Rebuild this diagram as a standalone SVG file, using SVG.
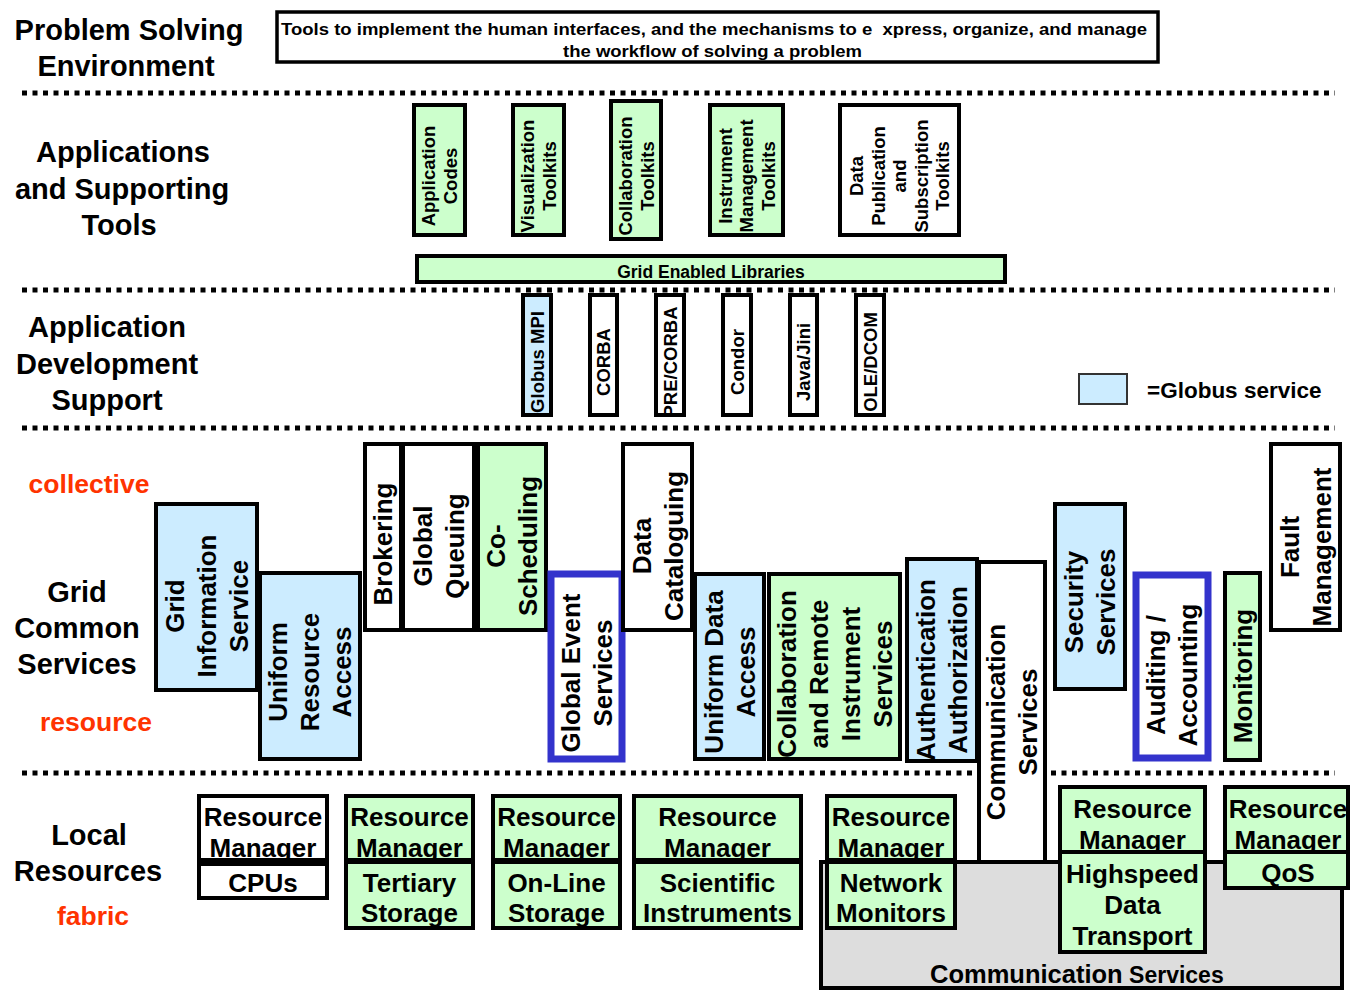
<svg xmlns="http://www.w3.org/2000/svg" width="1350" height="990" viewBox="0 0 1350 990">
<style>
.g{fill:#ccffcc;stroke:#000;stroke-width:4}
.b{fill:#ccecff;stroke:#000;stroke-width:4}
.w{fill:#fff;stroke:#000;stroke-width:4}
.ev{fill:#fff;stroke:#3333cc;stroke-width:7}
.gr{fill:#dddddd;stroke:#000;stroke-width:4}
.t{font-family:"Liberation Sans",Arial,sans-serif;font-weight:bold;fill:#000}
.m{text-anchor:middle}
.s18{font-size:18.5px}
.s26{font-size:26px}
.lab{font-size:29px}
.red{fill:#ff3300;font-size:26.5px}
.sep{stroke:#000;stroke-width:5;stroke-dasharray:5 5.5;fill:none}
</style>
<rect width="1350" height="990" fill="#fff"/>

<g id="separators">
<line class="sep" x1="22" y1="93" x2="1335" y2="93"/>
<line class="sep" x1="22" y1="290" x2="1335" y2="290"/>
<line class="sep" x1="22" y1="428" x2="1335" y2="428"/>
<line class="sep" x1="22" y1="773" x2="1335" y2="773"/>
</g>

<g id="layer-labels" class="t lab m">
<text x="129" y="40">Problem Solving</text>
<text x="126" y="76">Environment</text>
<text x="123" y="162">Applications</text>
<text x="122" y="199">and Supporting</text>
<text x="119" y="235">Tools</text>
<text x="107" y="337">Application</text>
<text x="107" y="374">Development</text>
<text x="107" y="410">Support</text>
<text x="77" y="602">Grid</text>
<text x="77" y="638">Common</text>
<text x="77" y="674">Services</text>
<text x="89" y="845">Local</text>
<text x="88" y="881">Resources</text>
<text class="red" x="89" y="493">collective</text>
<text class="red" x="96" y="731">resource</text>
<text class="red" x="93" y="925">fabric</text>
</g>

<g id="pse">
<rect x="277" y="12" width="881" height="50" fill="#fff" stroke="#000" stroke-width="3.5"/>
<text class="t" x="281" y="35" font-size="17" textLength="866" lengthAdjust="spacingAndGlyphs" xml:space="preserve">Tools to implement the human interfaces, and the mechanisms to e  xpress, organize, and manage</text>
<text class="t" x="563" y="57" font-size="17" textLength="299" lengthAdjust="spacingAndGlyphs">the workflow of solving a problem</text>
</g>

<g id="app-codes">
<rect class="g" x="414" y="105" width="51" height="130"/>
<text class="t s18 m" transform="translate(435,176) rotate(-90)"><tspan x="0" y="0">Application</tspan><tspan x="0" y="21.5">Codes</tspan></text>
</g>
<g id="vis-toolkits">
<rect class="g" x="513" y="105" width="51" height="130"/>
<text class="t s18 m" transform="translate(534,176) rotate(-90)"><tspan x="0" y="0">Visualization</tspan><tspan x="0" y="21.5">Toolkits</tspan></text>
</g>
<g id="collab-toolkits">
<rect class="g" x="611" y="101" width="50" height="138"/>
<text class="t s18 m" transform="translate(632,176) rotate(-90)"><tspan x="0" y="0">Collaboration</tspan><tspan x="0" y="21.5">Toolkits</tspan></text>
</g>
<g id="instr-toolkits">
<rect class="g" x="710" y="105" width="73" height="130"/>
<text class="t s18 m" transform="translate(731.5,176) rotate(-90)"><tspan x="0" y="0">Instrument</tspan><tspan x="0" y="21.5">Management</tspan><tspan x="0" y="43">Toolkits</tspan></text>
</g>
<g id="pubsub-toolkits">
<rect class="w" x="840" y="105" width="119" height="130"/>
<text class="t s18 m" transform="translate(863,176) rotate(-90)"><tspan x="0" y="0">Data</tspan><tspan x="0" y="21.5">Publication</tspan><tspan x="0" y="43">and</tspan><tspan x="0" y="64.5">Subscription</tspan><tspan x="0" y="86">Toolkits</tspan></text>
</g>
<g id="grid-libs">
<rect class="g" x="417" y="256" width="588" height="26"/>
<text class="t m" x="711" y="278" font-size="17.5">Grid Enabled Libraries</text>
</g>

<g id="globus-mpi">
<rect class="b" x="523" y="295" width="28" height="120"/>
<text class="t s18 m" transform="translate(543.5,362) rotate(-90)">Globus MPI</text>
</g>
<g id="corba">
<rect class="w" x="590" y="295" width="27" height="120"/>
<text class="t s18 m" transform="translate(610,362) rotate(-90)">CORBA</text>
</g>
<g id="pre-corba">
<rect class="w" x="656" y="295" width="28" height="120"/>
<text class="t s18 m" transform="translate(676.5,362) rotate(-90)">PRE/CORBA</text>
</g>
<g id="condor">
<rect class="w" x="723" y="295" width="28" height="120"/>
<text class="t s18 m" transform="translate(743.5,362) rotate(-90)">Condor</text>
</g>
<g id="java-jini">
<rect class="w" x="790" y="295" width="27" height="120"/>
<text class="t s18 m" transform="translate(810,362) rotate(-90)">Java/Jini</text>
</g>
<g id="ole-dcom">
<rect class="w" x="856" y="295" width="28" height="120"/>
<text class="t s18 m" transform="translate(876.5,362) rotate(-90)">OLE/DCOM</text>
</g>

<g id="legend">
<rect x="1079" y="374" width="48" height="30" fill="#ccecff" stroke="#333" stroke-width="2"/>
<text class="t" x="1147" y="398" font-size="22.5">=Globus service</text>
</g>

<g id="comm-services-bar">
<rect class="gr" x="821" y="862" width="521" height="126"/>
<text class="t" x="930" y="983"><tspan font-size="25.5">Communication</tspan><tspan font-size="23"> Services</tspan></text>
</g>

<g id="grid-info">
<rect class="b" x="156" y="504" width="101" height="186"/>
<text class="t s26 m" transform="translate(184,606) rotate(-90)"><tspan x="0" y="0">Grid</tspan><tspan x="0" y="32">Information</tspan><tspan x="0" y="64">Service</tspan></text>
</g>
<g id="uniform-resource">
<rect class="b" x="260" y="573" width="100" height="186"/>
<text class="t s26 m" transform="translate(287.4,672) rotate(-90)"><tspan x="0" y="0">Uniform</tspan><tspan x="0" y="32">Resource</tspan><tspan x="0" y="64">Access</tspan></text>
</g>
<g id="brokering">
<rect class="w" x="365" y="444" width="36" height="186"/>
<text class="t s26 m" transform="translate(392.4,544) rotate(-90)">Brokering</text>
</g>
<g id="global-queuing">
<rect class="w" x="403" y="444" width="71" height="186"/>
<text class="t s26 m" transform="translate(431.9,546) rotate(-90)"><tspan x="0" y="0">Global</tspan><tspan x="0" y="32">Queuing</tspan></text>
</g>
<g id="co-scheduling">
<rect class="g" x="478" y="444" width="68" height="186"/>
<text class="t s26 m" transform="translate(505.4,546) rotate(-90)"><tspan x="0" y="0">Co-</tspan><tspan x="0" y="32">Scheduling</tspan></text>
</g>
<g id="global-event">
<rect class="ev" x="551" y="574" width="71" height="185"/>
<text class="t s26 m" transform="translate(579.9,673) rotate(-90)"><tspan x="0" y="0">Global Event</tspan><tspan x="0" y="32">Services</tspan></text>
</g>
<g id="data-cataloguing">
<rect class="w" x="623" y="444" width="69" height="186"/>
<text class="t s26 m" transform="translate(650.9,546) rotate(-90)"><tspan x="0" y="0">Data</tspan><tspan x="0" y="32">Cataloguing</tspan></text>
</g>
<g id="uniform-data">
<rect class="b" x="695" y="574" width="69" height="185"/>
<text class="t s26 m" transform="translate(722.9,672) rotate(-90)"><tspan x="0" y="0">Uniform Data</tspan><tspan x="0" y="32">Access</tspan></text>
</g>
<g id="collab-remote">
<rect class="g" x="769" y="574" width="131" height="185"/>
<text class="t s26 m" transform="translate(795.9,674) rotate(-90)"><tspan x="0" y="0">Collaboration</tspan><tspan x="0" y="32">and Remote</tspan><tspan x="0" y="64">Instrument</tspan><tspan x="0" y="96">Services</tspan></text>
</g>
<g id="authn-authz">
<rect class="b" x="907" y="559" width="70" height="202"/>
<text class="t s26 m" transform="translate(935.4,670) rotate(-90)"><tspan x="0" y="0">Authentication</tspan><tspan x="0" y="32">Authorization</tspan></text>
</g>
<g id="communication-services">
<rect class="w" x="979" y="562" width="66" height="300"/>
<text class="t s26 m" transform="translate(1005.4,722) rotate(-90)"><tspan x="0" y="0">Communication</tspan><tspan x="0" y="32">Services</tspan></text>
</g>
<g id="security-services">
<rect class="b" x="1055" y="504" width="70" height="185"/>
<text class="t s26 m" transform="translate(1083.4,602) rotate(-90)"><tspan x="0" y="0">Security</tspan><tspan x="0" y="32">Services</tspan></text>
</g>
<g id="auditing">
<rect class="ev" x="1136" y="575" width="72" height="183"/>
<text class="t s26 m" transform="translate(1165.4,675) rotate(-90)"><tspan x="0" y="0">Auditing /</tspan><tspan x="0" y="32">Accounting</tspan></text>
</g>
<g id="monitoring">
<rect class="g" x="1225" y="573" width="35" height="187"/>
<text class="t s26 m" transform="translate(1251.9,676) rotate(-90)">Monitoring</text>
</g>
<g id="fault-management">
<rect class="w" x="1271" y="444" width="69" height="186"/>
<text class="t s26 m" transform="translate(1298.9,547) rotate(-90)"><tspan x="0" y="0">Fault</tspan><tspan x="0" y="32">Management</tspan></text>
</g>

<g id="cpus" class="t s26 m">
<rect class="w" x="199" y="796" width="128" height="64"/>
<rect class="w" x="199" y="864" width="128" height="34"/>
<text x="263" y="826">Resource</text><text x="263" y="857">Manager</text>
<text x="263" y="892">CPUs</text>
</g>
<g id="tertiary-storage" class="t s26 m">
<rect class="g" x="346" y="796" width="127" height="64"/>
<rect class="g" x="346" y="862" width="127" height="66"/>
<text x="409.5" y="826">Resource</text><text x="409.5" y="857">Manager</text>
<text x="409.5" y="892">Tertiary</text><text x="409.5" y="922">Storage</text>
</g>
<g id="online-storage" class="t s26 m">
<rect class="g" x="493" y="796" width="127" height="64"/>
<rect class="g" x="493" y="862" width="127" height="66"/>
<text x="556.5" y="826">Resource</text><text x="556.5" y="857">Manager</text>
<text x="556.5" y="892">On-Line</text><text x="556.5" y="922">Storage</text>
</g>
<g id="scientific-instruments" class="t s26 m">
<rect class="g" x="634" y="796" width="167" height="64"/>
<rect class="g" x="634" y="862" width="167" height="66"/>
<text x="717.5" y="826">Resource</text><text x="717.5" y="857">Manager</text>
<text x="717.5" y="892">Scientific</text><text x="717.5" y="922">Instruments</text>
</g>
<g id="network-monitors" class="t s26 m">
<rect class="g" x="827" y="796" width="128" height="64"/>
<rect class="g" x="827" y="862" width="128" height="66"/>
<text x="891" y="826">Resource</text><text x="891" y="857">Manager</text>
<text x="891" y="892">Network</text><text x="891" y="922">Monitors</text>
</g>
<g id="highspeed-transport" class="t s26 m">
<rect class="g" x="1060" y="787" width="145" height="65"/>
<rect class="g" x="1060" y="852" width="145" height="100"/>
<text x="1132.5" y="818">Resource</text><text x="1132.5" y="849">Manager</text>
<text x="1132.5" y="883">Highspeed</text><text x="1132.5" y="914">Data</text><text x="1132.5" y="945">Transport</text>
</g>
<g id="qos" class="t s26 m">
<rect class="g" x="1225" y="787" width="123" height="65"/>
<rect class="g" x="1225" y="852" width="123" height="36"/>
<text x="1288" y="818">Resource</text><text x="1288" y="849">Manager</text>
<text x="1288" y="882">QoS</text>
</g>
</svg>
